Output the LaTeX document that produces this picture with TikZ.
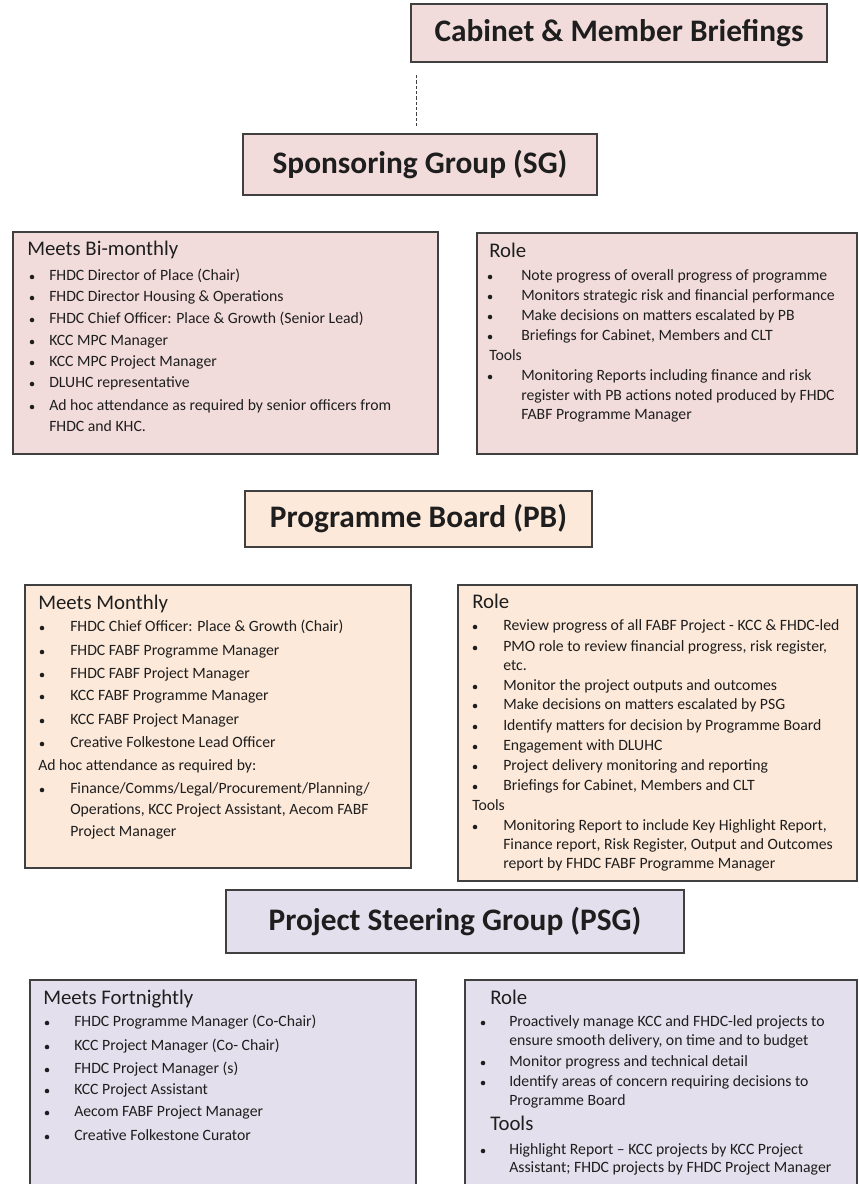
\documentclass[tikz,border=0pt]{standalone}
\usepackage{fontspec}
\setmainfont{Carlito}
\usetikzlibrary{fit}
\definecolor{sgc}{HTML}{F2DCDB}
\definecolor{pbc}{HTML}{FDE9D9}
\definecolor{psgc}{HTML}{E4DFEC}
\definecolor{edgec}{HTML}{404040}
\definecolor{ink}{HTML}{1E1E1E}
\newcommand\myHd[4]{\node[hd] (#1) at (#2,#3) {#4};}
\newcommand\mySm[4]{\node[tx] (#1) at (#2,#3) {#4};}
\newcommand\myIt[5]{\node[dot] (#1d) at (#2,#3) {}; \node[tx] (#1) at (#4,#3) {#5};}
\begin{document}
\begin{tikzpicture}[x=0.75pt,y=-0.75pt,
  box/.style={draw=edgec, line width=1pt, inner sep=0pt},
  ttl/.style={inner sep=0pt, font=\bfseries\fontsize{23.5}{28}\selectfont, text=ink},
  hd/.style={anchor=west, inner sep=0pt, text height=7.5pt, text depth=0pt, font=\fontsize{15.6}{18}\selectfont, text=ink},
  tx/.style={anchor=west, inner sep=0pt, text height=5.7pt, text depth=0pt, font=\fontsize{11.8}{14}\selectfont, text=ink},
  dot/.style={circle, fill=ink, inner sep=0pt, minimum size=3.4pt},
  dashln/.style={draw=edgec, line width=0.6pt, dash pattern=on 2.5pt off 1.5pt}]
\useasboundingbox (0,0) rectangle (858,1184);
\clip (0,0) rectangle (858,1184);
\fill[white] (0,0) rectangle (858,1184);

% ---------- headers ----------
\node[box, fill=sgc, fit={(411,4)(827,62)}] (cab) {};
\node[ttl] (cabt) at (cab.center) {Cabinet \& Member Briefings};
\node[box, fill=sgc, fit={(243,134)(597,195)}] (sg) {};
\node[ttl] (sgt) at (sg.center) {Sponsoring Group (SG)};
\coordinate (dtop) at (416,75);
\coordinate (dbot) at (416,128);
\draw[dashln] (dtop) -- (dbot);

% ---------- SG boxes ----------
\node[box, fill=sgc, fit={(13,232)(438,454)}] (sgl) {};
\myHd{sglh}{27}{250}{Meets Bi-monthly}
\myIt{sgl1}{32}{277}{49}{FHDC Director of Place (Chair)}
\myIt{sgl2}{32}{298}{49}{FHDC Director Housing \& Operations}
\myIt{sgl3}{32}{320}{49}{FHDC Chief Officer: Place \& Growth (Senior Lead)}
\myIt{sgl4}{32}{342}{49}{KCC MPC Manager}
\myIt{sgl5}{32}{363}{49}{KCC MPC Project Manager}
\myIt{sgl6}{32}{384}{49}{DLUHC representative}
\myIt{sgl7}{32}{407}{49}{Ad hoc attendance as required by senior officers from}
\mySm{sgl8}{49}{428}{FHDC and KHC.}

\node[box, fill=sgc, fit={(477,233)(857,454)}] (sgr) {};
\myHd{sgrh}{489}{252}{Role}
\myIt{sgr1}{490}{277}{521}{Note progress of overall progress of programme}
\myIt{sgr2}{490}{297}{521}{Monitors strategic risk and financial performance}
\myIt{sgr3}{490}{317}{521}{Make decisions on matters escalated by PB}
\myIt{sgr4}{490}{337}{521}{Briefings for Cabinet, Members and CLT}
\mySm{sgrt}{489}{357}{Tools}
\myIt{sgr5}{490}{377}{521}{Monitoring Reports including finance and risk}
\mySm{sgr6}{521}{397}{register with PB actions noted produced by FHDC}
\mySm{sgr7}{521}{416}{FABF Programme Manager}

% ---------- PB ----------
\node[box, fill=pbc, fit={(245,491)(592,547)}] (pb) {};
\node[ttl] (pbt) at (pb.center) {Programme Board (PB)};

\node[box, fill=pbc, fit={(25,585)(411,868)}] (pbl) {};
\myHd{pblh}{38}{604}{Meets Monthly}
\myIt{pbl1}{42}{628}{70}{FHDC Chief Officer: Place \& Growth (Chair)}
\myIt{pbl2}{42}{652}{70}{FHDC FABF Programme Manager}
\myIt{pbl3}{42}{675}{70}{FHDC FABF Project Manager}
\myIt{pbl4}{42}{697}{70}{KCC FABF Programme Manager}
\myIt{pbl5}{42}{721}{70}{KCC FABF Project Manager}
\myIt{pbl6}{42}{744}{70}{Creative Folkestone Lead Officer}
\mySm{pbla}{38}{767}{Ad hoc attendance as required by:}
\myIt{pbl7}{42}{790}{70}{Finance/Comms/Legal/Procurement/Planning/}
\mySm{pbl8}{70}{811}{Operations, KCC Project Assistant, Aecom FABF}
\mySm{pbl9}{70}{833}{Project Manager}

\node[box, fill=pbc, fit={(458,585)(857,881)}] (pbr) {};
\myHd{pbrh}{472}{603}{Role}
\myIt{pbr1}{475}{627}{503}{Review progress of all FABF Project - KCC \& FHDC-led}
\myIt{pbr2}{475}{648}{503}{PMO role to review financial progress, risk register,}
\mySm{pbr3}{503}{667}{etc.}
\myIt{pbr4}{475}{687}{503}{Monitor the project outputs and outcomes}
\myIt{pbr5}{475}{706}{503}{Make decisions on matters escalated by PSG}
\myIt{pbr6}{475}{727}{503}{Identify matters for decision by Programme Board}
\myIt{pbr7}{475}{747}{503}{Engagement with DLUHC}
\myIt{pbr8}{475}{767}{503}{Project delivery monitoring and reporting}
\myIt{pbr9}{475}{787}{503}{Briefings for Cabinet, Members and CLT}
\mySm{pbrt}{472}{807}{Tools}
\myIt{pbr10}{475}{827}{503}{Monitoring Report to include Key Highlight Report,}
\mySm{pbr11}{503}{846}{Finance report, Risk Register, Output and Outcomes}
\mySm{pbr12}{503}{865}{report by FHDC FABF Programme Manager}

% ---------- PSG ----------
\node[box, fill=psgc, fit={(226,890)(684,953)}] (psg) {};
\node[ttl] (psgt) at (psg.center) {Project Steering Group (PSG)};

\node[box, fill=psgc, fit={(30,980)(416,1200)}] (psgl) {};
\myHd{psglh}{43}{999}{Meets Fortnightly}
\myIt{psgl1}{47}{1023}{74}{FHDC Programme Manager (Co-Chair)}
\myIt{psgl2}{47}{1047}{74}{KCC Project Manager (Co- Chair)}
\myIt{psgl3}{47}{1070}{74}{FHDC Project Manager (s)}
\myIt{psgl4}{47}{1091}{74}{KCC Project Assistant}
\myIt{psgl5}{47}{1113}{74}{Aecom FABF Project Manager}
\myIt{psgl6}{47}{1137}{74}{Creative Folkestone Curator}

\node[box, fill=psgc, fit={(465,980)(857,1200)}] (psgr) {};
\myHd{psgrh}{490}{999}{Role}
\myIt{psgr1}{483}{1023}{509}{Proactively manage KCC and FHDC-led projects to}
\mySm{psgr2}{509}{1042}{ensure smooth delivery, on time and to budget}
\myIt{psgr3}{483}{1063}{509}{Monitor progress and technical detail}
\myIt{psgr4}{483}{1083}{509}{Identify areas of concern requiring decisions to}
\mySm{psgr5}{509}{1102}{Programme Board}
\myHd{psgrt}{490}{1125}{Tools}
\myIt{psgr6}{483}{1151}{509}{Highlight Report – KCC projects by KCC Project}
\mySm{psgr7}{509}{1169}{Assistant; FHDC projects by FHDC Project Manager}
\end{tikzpicture}
\end{document}
